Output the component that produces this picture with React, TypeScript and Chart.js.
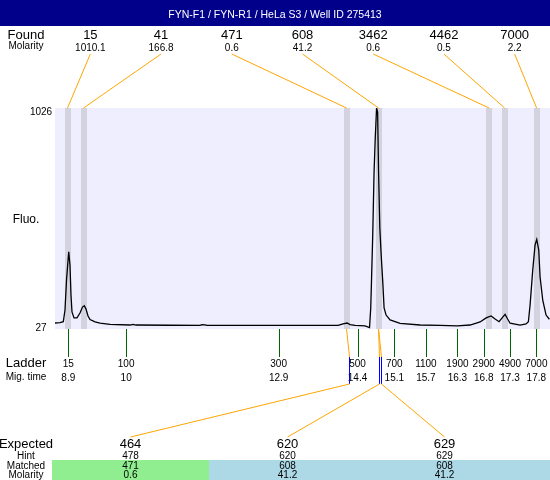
import React, { useEffect, useRef } from "react";
import { Chart, registerables } from "chart.js";

Chart.register(...registerables);

const titleText = "FYN-F1 / FYN-R1 / HeLa S3 / Well ID 275413";
const yAxisMin = 27;
const yAxisMax = 1026;
const timeMin = 8.647;
const timeMax = 18.06;

// Electropherogram trace: migration time vs fluorescence
const traceTime = [
  8.647, 8.742, 8.805, 8.837, 8.866, 8.908, 8.932, 8.951, 8.97, 9.008, 9.065, 9.122, 9.17, 9.204, 9.237,
  9.275, 9.313, 9.408, 9.503, 9.693, 10.073, 10.13, 10.187, 10.834, 11.405, 11.443, 11.5, 11.538, 12.356,
  13.307, 14.029, 14.125, 14.201, 14.258, 14.353, 14.543, 14.628, 14.651, 14.666, 14.689, 14.714, 14.737,
  14.762, 14.782, 14.8, 14.824, 14.853, 14.88, 14.905, 14.943, 15.019, 15.209, 15.589, 15.97, 16.293,
  16.54, 16.731, 16.845, 16.94, 17.016, 17.092, 17.149, 17.206, 17.254, 17.301, 17.491, 17.605, 17.649,
  17.681, 17.732, 17.776, 17.808, 17.846, 17.871, 17.922, 17.985, 18.048,
];
const traceFluo = [
  54, 56, 60, 113, 248, 376, 316, 181, 104, 77, 77, 99, 126, 132, 117,
  86, 70, 59, 54, 48, 45, 48, 45, 44, 43, 47, 46, 43, 43,
  43, 43, 50, 54, 47, 43, 41, 33, 122, 248, 452, 732, 890,
  1026, 1008, 737, 483, 348, 239, 122, 90, 68, 52, 45, 43, 41,
  45, 59, 77, 86, 72, 60, 77, 93, 72, 53, 45, 50, 60,
  135, 294, 407, 432, 384, 263, 158, 90, 71,
];

// Found peaks
const foundTime = [8.885, 9.189, 14.191, 14.8, 16.902, 17.197, 17.805];
const foundSize = ["15", "41", "471", "608", "3462", "4462", "7000"];
const foundMolarity = ["1010.1", "166.8", "0.6", "41.2", "0.6", "0.5", "2.2"];

// Ladder
const ladderSize = ["15", "100", "300", "500", "700", "1100", "1900", "2900", "4900", "7000"];
const ladderTime = ["8.9", "10", "12.9", "14.4", "15.1", "15.7", "16.3", "16.8", "17.3", "17.8"];

// Expected / matched table
const expectedSize = ["464", "620", "629"];
const hintSize = ["478", "620", "629"];
const hintTime = [14.235, 14.805, 14.845];
const matchedSize = ["471", "608", "608"];
const matchedMolarity = ["0.6", "41.2", "41.2"];
const matchedFoundIndex = [2, 3, 3];
const matchedColor = ["#90EE90", "#ADD8E6", "#ADD8E6"];

const FONT = '"Liberation Sans", Arial, sans-serif';

const overlayPlugin = {
  id: "overlay",
  beforeDatasetsDraw(chart: any) {
    const { ctx, chartArea: a, scales } = chart;
    const xs = scales.x;
    ctx.save();
    ctx.fillStyle = "#EEEEFF";
    ctx.fillRect(a.left, a.top, a.right - a.left, a.bottom - a.top);
    ctx.fillStyle = "#D3D3DF";
    foundTime.forEach((t) => {
      const px = Math.round(xs.getPixelForValue(t));
      ctx.fillRect(px - 3, a.top, 6, a.bottom - a.top);
    });
    ctx.restore();
  },
  afterDraw(chart: any) {
    const { ctx, chartArea: a, scales, width } = chart;
    const xs = scales.x;
    ctx.save();

    // Title bar
    ctx.fillStyle = "#00008B";
    ctx.fillRect(0, 0, width, 26);
    ctx.fillStyle = "#FFFFFF";
    ctx.textAlign = "center";
    ctx.textBaseline = "alphabetic";
    ctx.font = `10.5px ${FONT}`;
    ctx.fillText(titleText, width / 2, 18);

    ctx.fillStyle = "#000";
    // Found row
    ctx.font = `13px ${FONT}`;
    ctx.fillText("Found", 26, 39);
    ctx.font = `10px ${FONT}`;
    ctx.fillText("Molarity", 26, 49);
    const slot = (a.right - a.left) / foundSize.length;
    foundSize.forEach((s, i) => {
      const cx = a.left + slot * (i + 0.5);
      ctx.font = `13px ${FONT}`;
      ctx.fillText(s, cx, 39);
      ctx.font = `10px ${FONT}`;
      ctx.fillText(foundMolarity[i], cx, 51);
    });
    // connectors top
    ctx.strokeStyle = "#FFA500";
    ctx.lineWidth = 1;
    foundTime.forEach((t, i) => {
      const cx = a.left + slot * (i + 0.5);
      ctx.beginPath();
      ctx.moveTo(cx, 54);
      ctx.lineTo(xs.getPixelForValue(t), a.top);
      ctx.stroke();
    });

    // Y labels
    ctx.font = `10px ${FONT}`;
    ctx.fillText(String(yAxisMax), 41, 115);
    ctx.fillText(String(yAxisMin), 41, 331);
    ctx.font = `12px ${FONT}`;
    ctx.fillText("Fluo.", 26, 223);

    // Ladder ticks
    ctx.strokeStyle = "#006400";
    ladderTime.forEach((t) => {
      const px = Math.round(xs.getPixelForValue(parseFloat(t))) + 0.5;
      ctx.beginPath();
      ctx.moveTo(px, a.bottom);
      ctx.lineTo(px, a.bottom + 28);
      ctx.stroke();
    });
    ctx.font = `13px ${FONT}`;
    ctx.fillText("Ladder", 26, 367);
    ctx.font = `10px ${FONT}`;
    ctx.fillText("Mig. time", 26, 380);
    ladderSize.forEach((s, i) => {
      const px = xs.getPixelForValue(parseFloat(ladderTime[i]));
      ctx.fillText(s, px, 367);
      ctx.fillText(ladderTime[i], px, 381);
    });

    // Table
    const tableLeft = 52;
    const colW = 157;
    matchedColor.forEach((c, i) => {
      ctx.fillStyle = c;
      const x0 = tableLeft + colW * i;
      const w = i === matchedColor.length - 1 ? width - x0 : colW;
      ctx.fillRect(x0, 460, w, 20);
    });

    // Match connectors
    expectedSize.forEach((_, i) => {
      const fx = xs.getPixelForValue(foundTime[matchedFoundIndex[i]]);
      const hx = Math.round(xs.getPixelForValue(hintTime[i])) + 0.5;
      const cx = tableLeft + colW * (i + 0.5);
      ctx.strokeStyle = "#FFA500";
      ctx.beginPath();
      ctx.moveTo(fx, a.bottom);
      ctx.lineTo(hx, a.bottom + 28);
      ctx.stroke();
      ctx.strokeStyle = "#0000FF";
      ctx.beginPath();
      ctx.moveTo(hx, a.bottom + 28);
      ctx.lineTo(hx, 384);
      ctx.stroke();
      ctx.strokeStyle = "#FFA500";
      ctx.beginPath();
      ctx.moveTo(hx, 384);
      ctx.lineTo(cx, 437);
      ctx.stroke();
    });

    ctx.fillStyle = "#000";
    ctx.font = `13px ${FONT}`;
    ctx.fillText("Expected", 26, 448);
    ctx.font = `10px ${FONT}`;
    ctx.fillText("Hint", 26, 459);
    ctx.fillText("Matched", 26, 469);
    ctx.fillText("Molarity", 26, 478);
    expectedSize.forEach((s, i) => {
      const cx = tableLeft + colW * (i + 0.5);
      ctx.font = `13px ${FONT}`;
      ctx.fillText(s, cx, 448);
      ctx.font = `10px ${FONT}`;
      ctx.fillText(hintSize[i], cx, 459);
      ctx.fillText(matchedSize[i], cx, 469);
      ctx.fillText(matchedMolarity[i], cx, 478);
    });

    ctx.restore();
  },
};

export default function App() {
  const ref = useRef<HTMLCanvasElement | null>(null);
  useEffect(() => {
    document.body.style.margin = "0";
    if (!ref.current) return;
    const chart = new Chart(ref.current, {
      type: "line",
      data: {
        datasets: [
          {
            data: traceTime.map((t, i) => ({ x: t, y: traceFluo[i] })),
            borderColor: "#000000",
            borderWidth: 1.3,
            pointRadius: 0,
            tension: 0,
            fill: false,
          },
        ],
      },
      options: {
        responsive: false,
        animation: false,
        devicePixelRatio: 1,
        layout: { padding: { left: 55, top: 108, right: 0, bottom: 151 } },
        scales: {
          x: { type: "linear", min: timeMin, max: timeMax, display: false },
          y: { min: yAxisMin, max: yAxisMax, display: false },
        },
        plugins: { legend: { display: false }, tooltip: { enabled: false } },
      },
      plugins: [overlayPlugin],
    } as any);
    return () => chart.destroy();
  }, []);
  return (
    <div style={{ width: 550, height: 480 }}>
      <canvas ref={ref} width={550} height={480} style={{ display: "block" }} />
    </div>
  );
}
